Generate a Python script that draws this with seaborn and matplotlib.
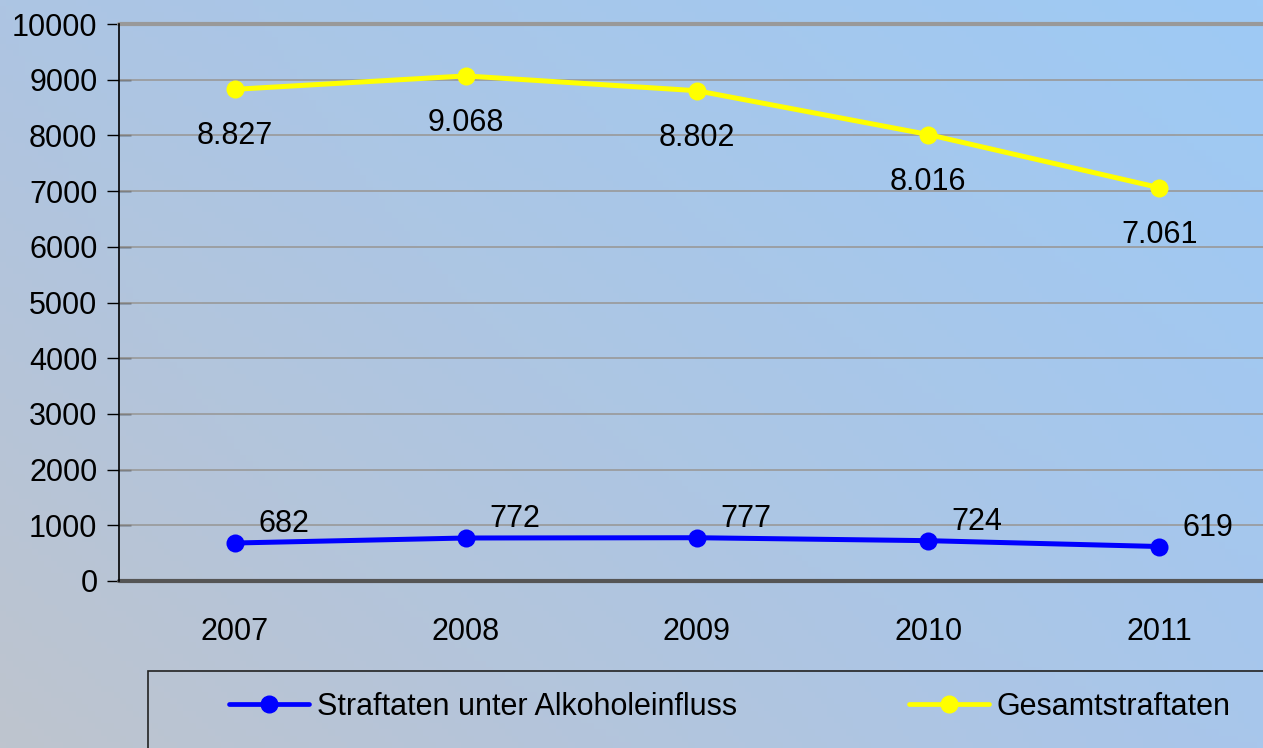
import numpy as np
import pandas as pd
import matplotlib
matplotlib.use('Agg')
import matplotlib.pyplot as plt
from matplotlib.patches import Rectangle
import seaborn as sns

# Data
years = ['2007', '2008', '2009', '2010', '2011']
alkohol = [682, 772, 777, 724, 619]
gesamt = [8827, 9068, 8802, 8016, 7061]
alkohol_labels = ['682', '772', '777', '724', '619']
gesamt_labels = ['8.827', '9.068', '8.802', '8.016', '7.061']
series_names = ['Straftaten unter Alkoholeinfluss', 'Gesamtstraftaten']
y_ticks = [0, 1000, 2000, 3000, 4000, 5000, 6000, 7000, 8000, 9000, 10000]

sns.set_style('white')
plt.rcParams['font.family'] = ['Liberation Sans', 'DejaVu Sans']
plt.rcParams['text.color'] = 'black'
plt.rcParams['xtick.color'] = 'black'
plt.rcParams['ytick.color'] = 'black'
plt.rcParams['xtick.labelcolor'] = 'black'
plt.rcParams['ytick.labelcolor'] = 'black'

FS = 22

fig = plt.figure(figsize=(12.63, 7.48), dpi=100)

# background gradient over the whole figure
bg = fig.add_axes([0, 0, 1, 1], zorder=-10)
tl = np.array([173, 197, 227]) / 255
tr = np.array([158, 202, 245]) / 255
bl = np.array([190, 196, 206]) / 255
br = np.array([168, 198, 235]) / 255
u = np.linspace(0, 1, 200)[None, :, None]
v = np.linspace(0, 1, 120)[:, None, None]
grad = (1 - v) * ((1 - u) * tl + u * tr) + v * ((1 - u) * bl + u * br)
bg.imshow(grad, aspect='auto', extent=[0, 1, 0, 1])
bg.axis('off')

ax = fig.add_axes([119 / 1263, 1 - 581 / 748, 1156 / 1263, 557 / 748])
ax.patch.set_alpha(0)

df = pd.DataFrame({'x': list(range(len(years))) * 2,
                   'y': alkohol + gesamt,
                   'series': [series_names[0]] * 5 + [series_names[1]] * 5})

sns.lineplot(data=df, x='x', y='y', hue='series',
             palette={series_names[0]: '#0000FF', series_names[1]: '#FFFF00'},
             marker='o', markersize=13, markeredgewidth=0, linewidth=3.6,
             legend=False, ax=ax, zorder=3)

# data labels
for i, (v_, lab) in enumerate(zip(gesamt, gesamt_labels)):
    ax.annotate(lab, (i, v_), xytext=(0, -47), textcoords='offset pixels',
                ha='center', va='center', fontsize=FS, color='black')
for i, (v_, lab) in enumerate(zip(alkohol, alkohol_labels)):
    ax.annotate(lab, (i, v_), xytext=(49, 19), textcoords='offset pixels',
                ha='center', va='center', fontsize=FS, color='black')

ax.set_xlim(-0.5, 4.5)
ax.set_ylim(0, 10000)
ax.set_yticks(y_ticks)
ax.set_yticklabels([str(t) for t in y_ticks], fontsize=FS)
ax.set_xticks(range(len(years)))
ax.set_xticklabels(years, fontsize=FS)
ax.set_xticks(np.arange(-0.5, 4.6, 1), minor=True)
ax.tick_params(axis='x', which='major', length=0, pad=26)
ax.tick_params(axis='x', which='minor', direction='inout', length=17, width=1, color='black')
ax.tick_params(axis='y', direction='inout', length=17, width=1, color='black', pad=7, left=True)
ax.set_xlabel('')
ax.set_ylabel('')

for t in y_ticks[1:-1]:
    ax.axhline(t, color='#999999', linewidth=1.2, zorder=1)
ax.axhline(10000, color='#999999', linewidth=3, zorder=1, clip_on=False)
ax.axhline(0, color='#555555', linewidth=3, zorder=2, clip_on=False)

for s in ['top', 'right', 'bottom']:
    ax.spines[s].set_visible(False)
ax.spines['left'].set_color('black')
ax.spines['left'].set_linewidth(1.2)

# legend box
fig.patches.append(Rectangle((148 / 1263, -0.05), 1.2, 1 - 671 / 748 + 0.05,
                             transform=fig.transFigure, facecolor='none',
                             edgecolor='#222222', linewidth=1.2))
handles = [plt.Line2D([], [], color='#0000FF', marker='o', markersize=12, linewidth=3.4),
           plt.Line2D([], [], color='#FFFF00', marker='o', markersize=12, linewidth=3.4)]
fig.legend(handles, series_names, loc='center left', bbox_to_anchor=(229 / 1263, 1 - 707 / 748),
           ncol=2, frameon=False, fontsize=FS, handlelength=2.62, handletextpad=0.27,
           columnspacing=5.6, borderpad=0, borderaxespad=0, labelcolor='black')

fig.savefig('out.png', dpi=100)
